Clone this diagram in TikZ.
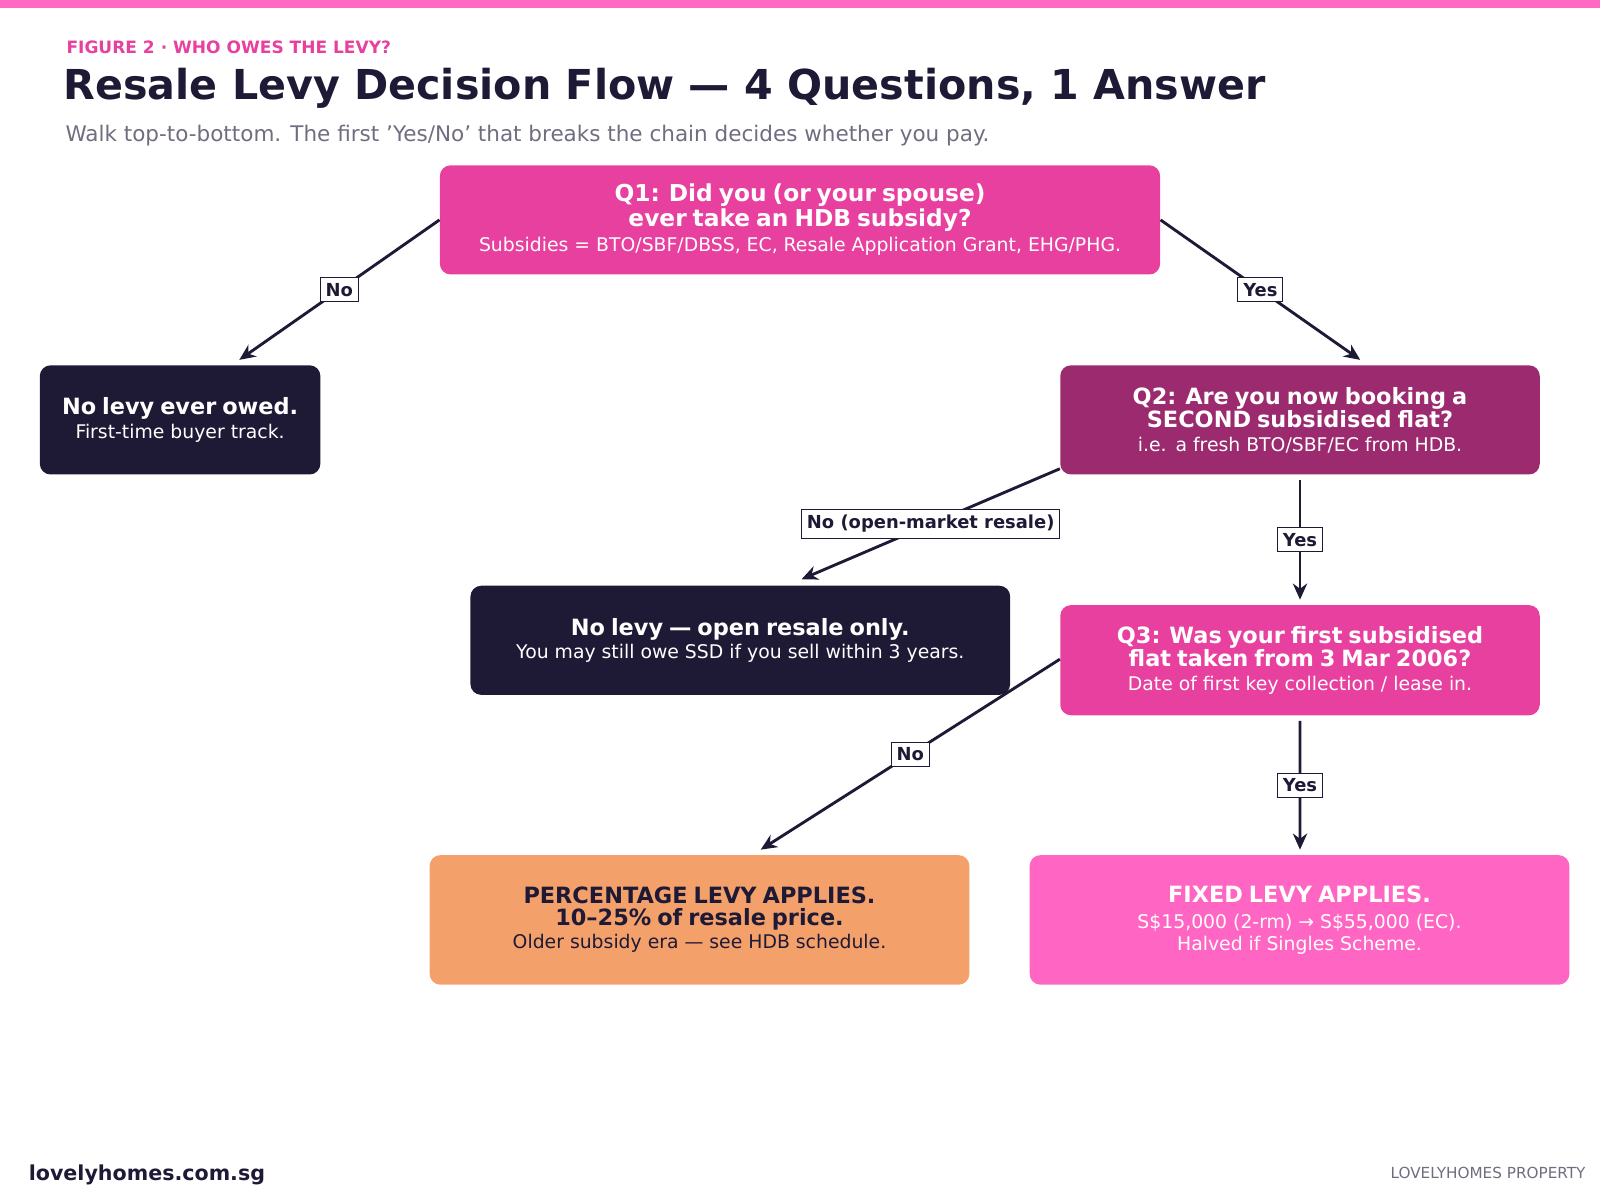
\documentclass[tikz,border=0pt]{standalone}
\usepackage{fontspec}
\setmainfont{DejaVu Sans}
\usetikzlibrary{arrows.meta,calc,positioning}
\definecolor{ink}{HTML}{1E1A36}
\definecolor{barpink}{HTML}{FF69C4}
\definecolor{qpink}{HTML}{E8409F}
\definecolor{plum}{HTML}{9B2A6E}
\definecolor{peach}{HTML}{F4A06B}
\definecolor{hotpink}{HTML}{FF66C4}
\definecolor{muted}{HTML}{6E6E80}
\tikzset{
	box/.style={rounded corners=6pt, align=center, inner sep=0pt, text=white},
	qbox/.style={box, fill=qpink},
	endbox/.style={box, fill=ink},
	head/.style={font=\bfseries\fontsize{12.5}{16}\selectfont},
	sub/.style={font=\fontsize{10.5}{14}\selectfont},
	flow/.style={-{Stealth[length=9pt,width=8pt]}, line width=1.6pt, draw=ink},
	tag/.style={draw=ink, fill=white, line width=0.6pt, text=ink, inner sep=3pt,
		font=\bfseries\fontsize{10}{12}\selectfont}
}
\begin{document}
\begin{tikzpicture}[x=0.02cm, y=-0.02cm]
   \useasboundingbox (0,0) rectangle (1568,1176);
   \fill[barpink] (0,0) rectangle (1568,8);
   % heading
   \node[anchor=west, text=qpink, font=\bfseries\fontsize{9.5}{11}\selectfont] (fig) at (59,46) {FIGURE 2 · WHO OWES THE LEVY?};
   \node[anchor=west, text=ink, font=\bfseries\fontsize{23}{28}\selectfont] (title) at (56,87) {Resale Levy Decision Flow — 4 Questions, 1 Answer};
   \node[anchor=west, text=muted, font=\fontsize{12}{14}\selectfont] (lead) at (58,133) {Walk top-to-bottom. The first 'Yes/No' that breaks the chain decides whether you pay.};
   % boxes
   \node[qbox, minimum width=706\pgflinewidth, text width=13.8cm, minimum width=14.12cm, minimum height=2.14cm] (q1) at (784,215.5)
      {{\bfseries\fontsize{13}{17}\selectfont Q1: Did you (or your spouse) ever take an HDB subsidy?}\\[2pt]
       {\fontsize{10.5}{14}\selectfont Subsidies = BTO/SBF/DBSS, EC, Resale Application Grant, EHG/PHG.}};
   \node[endbox, text width=5.3cm, minimum width=5.5cm, minimum height=2.14cm] (never) at (176.5,411.5)
      {{\bfseries\fontsize{12.5}{16}\selectfont No levy ever owed.}\\[1pt]{\fontsize{10.5}{14}\selectfont First-time buyer track.}};
   \node[box, fill=plum, text width=9.2cm, minimum width=9.4cm, minimum height=2.14cm] (q2) at (1274,411.5)
      {{\bfseries\fontsize{12.5}{17}\selectfont Q2: Are you now booking a\\SECOND subsidised flat?}\\[1pt]{\fontsize{10.5}{14}\selectfont i.e. a fresh BTO/SBF/EC from HDB.}};
   \node[endbox, text width=10.4cm, minimum width=10.58cm, minimum height=2.14cm] (openres) at (725.5,627.5)
      {{\bfseries\fontsize{12.5}{16}\selectfont No levy — open resale only.}\\[1pt]{\fontsize{10.5}{14}\selectfont You may still owe SSD if you sell within 3 years.}};
   \node[qbox, text width=9.2cm, minimum width=9.4cm, minimum height=2.16cm] (q3) at (1274,647)
      {{\bfseries\fontsize{12.5}{17}\selectfont Q3: Was your first subsidised\\flat taken from 3 Mar 2006?}\\[1pt]{\fontsize{10.5}{14}\selectfont Date of first key collection / lease in.}};
   \node[box, fill=peach, text=ink, text width=10.4cm, minimum width=10.58cm, minimum height=2.54cm] (pct) at (685.5,901.5)
      {{\bfseries\fontsize{12.5}{17}\selectfont PERCENTAGE LEVY APPLIES.\\10–25\% of resale price.}\\[1pt]{\fontsize{10.5}{14}\selectfont Older subsidy era — see HDB schedule.}};
   \node[box, fill=hotpink, text width=10.4cm, minimum width=10.58cm, minimum height=2.54cm] (fixed) at (1273.5,901.5)
      {{\bfseries\fontsize{12.5}{17}\selectfont FIXED LEVY APPLIES.}\\[1pt]{\fontsize{10.5}{13.5}\selectfont S\$15,000 (2-rm) → S\$55,000 (EC).\\Halved if Singles Scheme.}};
   % connectors
   \draw[flow] (q1.west) -- node[tag] {No} ($(never.north)+(58,-5)$);
   \draw[flow] (q1.east) -- node[tag] {Yes} ($(q2.north)+(59,-5)$);
   \draw[flow] ($(q2.south west)+(0,-6)$) -- node[tag] {No (open-market resale)} ($(openres.north)+(60,-6)$);
   \draw[flow] ($(q2.south)+(0,5)$) -- node[tag] {Yes} ($(q3.north)+(0,-5)$);
   \draw[flow] ($(q3.west)+(0,-1)$) -- node[tag] {No} ($(pct.north)+(60,-5)$);
   \draw[flow] ($(q3.south)+(0,5)$) -- node[tag] {Yes} ($(fixed.north)+(0.5,-5)$);
   % footer
   \node[anchor=west, text=ink, font=\bfseries\fontsize{11.5}{14}\selectfont] (site) at (22,1151) {lovelyhomes.com.sg};
   \node[anchor=east, text=muted, font=\fontsize{8.5}{10}\selectfont] (brand) at (1560,1149) {LOVELYHOMES PROPERTY};
\end{tikzpicture}
\end{document}
